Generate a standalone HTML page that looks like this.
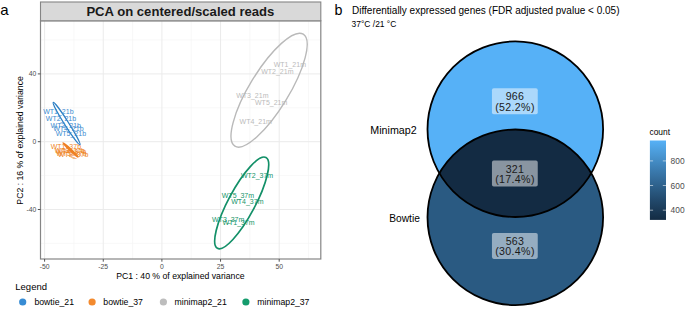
<!DOCTYPE html><html><head><meta charset="utf-8"><style>html,body{margin:0;padding:0;background:#fff;width:685px;height:312px;overflow:hidden}svg{display:block}text{font-family:"Liberation Sans",sans-serif}</style></head><body>
<svg width="685" height="312" viewBox="0 0 685 312">
<rect width="685" height="312" fill="#fff"/>
<text x="0.2" y="14.8" font-size="15" fill="#000">a</text>
<line x1="73.92" y1="20.8" x2="73.92" y2="259.0" stroke="#f4f4f4" stroke-width="0.6"/>
<line x1="132.57" y1="20.8" x2="132.57" y2="259.0" stroke="#f4f4f4" stroke-width="0.6"/>
<line x1="191.23" y1="20.8" x2="191.23" y2="259.0" stroke="#f4f4f4" stroke-width="0.6"/>
<line x1="249.88" y1="20.8" x2="249.88" y2="259.0" stroke="#f4f4f4" stroke-width="0.6"/>
<line x1="308.52" y1="20.8" x2="308.52" y2="259.0" stroke="#f4f4f4" stroke-width="0.6"/>
<line x1="40.5" y1="40.00" x2="320.8" y2="40.00" stroke="#f4f4f4" stroke-width="0.6"/>
<line x1="40.5" y1="107.80" x2="320.8" y2="107.80" stroke="#f4f4f4" stroke-width="0.6"/>
<line x1="40.5" y1="175.60" x2="320.8" y2="175.60" stroke="#f4f4f4" stroke-width="0.6"/>
<line x1="40.5" y1="243.40" x2="320.8" y2="243.40" stroke="#f4f4f4" stroke-width="0.6"/>
<line x1="44.60" y1="20.8" x2="44.60" y2="259.0" stroke="#ebebeb" stroke-width="1"/>
<line x1="103.25" y1="20.8" x2="103.25" y2="259.0" stroke="#ebebeb" stroke-width="1"/>
<line x1="161.90" y1="20.8" x2="161.90" y2="259.0" stroke="#ebebeb" stroke-width="1"/>
<line x1="220.55" y1="20.8" x2="220.55" y2="259.0" stroke="#ebebeb" stroke-width="1"/>
<line x1="279.20" y1="20.8" x2="279.20" y2="259.0" stroke="#ebebeb" stroke-width="1"/>
<line x1="40.5" y1="73.90" x2="320.8" y2="73.90" stroke="#ebebeb" stroke-width="1"/>
<line x1="40.5" y1="141.70" x2="320.8" y2="141.70" stroke="#ebebeb" stroke-width="1"/>
<line x1="40.5" y1="209.50" x2="320.8" y2="209.50" stroke="#ebebeb" stroke-width="1"/>
<ellipse cx="66.6" cy="123.6" rx="25.0" ry="2.1" transform="rotate(57.6 66.6 123.6)" fill="none" stroke="#2c7fc4" stroke-width="1.3"/>
<ellipse cx="70.5" cy="149.95" rx="10.2" ry="0.8" transform="rotate(43.7 70.5 149.95)" fill="none" stroke="#ef7f22" stroke-width="1.6"/>
<ellipse cx="269.1" cy="90.2" rx="65.6" ry="19.6" transform="rotate(-58.6 269.1 90.2)" fill="none" stroke="#b9b9b9" stroke-width="1.4"/>
<ellipse cx="241.7" cy="202.9" rx="51.5" ry="13.4" transform="rotate(-61.9 241.7 202.9)" fill="none" stroke="#139068" stroke-width="1.7"/>
<text x="43.2" y="113.5" font-size="7.0" fill="#3a8bd0">WT1_21b</text>
<text x="45.8" y="121.2" font-size="7.0" fill="#3a8bd0">WT2_21b</text>
<text x="50.6" y="128.3" font-size="7.0" fill="#3a8bd0">WT3_21b</text>
<text x="53.2" y="131.0" font-size="7.0" fill="#3a8bd0">WT4_21b</text>
<text x="55.7" y="135.5" font-size="7.0" fill="#3a8bd0">WT5_21b</text>
<text x="50.7" y="148.5" font-size="7.0" fill="#ef8628">WT1_37b</text>
<text x="54.5" y="152.8" font-size="7.0" fill="#ef8628">WT3_37b</text>
<text x="55.7" y="153.5" font-size="7.0" fill="#ef8628">WT4_37b</text>
<text x="58.0" y="157.0" font-size="7.0" fill="#ef8628">WT2_37b</text>
<text x="56.2" y="155.7" font-size="7.0" fill="#ef8628">WT5_37b</text>
<text x="273.7" y="66.5" font-size="7.0" fill="#bbbbbb">WT1_21m</text>
<text x="261.2" y="73.7" font-size="7.0" fill="#bbbbbb">WT2_21m</text>
<text x="236.2" y="98.4" font-size="7.0" fill="#bbbbbb">WT3_21m</text>
<text x="255.0" y="105.1" font-size="7.0" fill="#bbbbbb">WT5_21m</text>
<text x="239.6" y="124.3" font-size="7.0" fill="#bbbbbb">WT4_21m</text>
<text x="240.9" y="178.4" font-size="7.0" fill="#16956a">WT2_37m</text>
<text x="221.8" y="197.8" font-size="7.0" fill="#16956a">WT5_37m</text>
<text x="231.2" y="204.2" font-size="7.0" fill="#16956a">WT4_37m</text>
<text x="212.0" y="221.5" font-size="7.0" fill="#16956a">WT3_37m</text>
<text x="222.4" y="224.5" font-size="7.0" fill="#16956a">WT1_37m</text>
<rect x="40.5" y="20.8" width="280.3" height="238.2" fill="none" stroke="#858585" stroke-width="1.2"/>
<rect x="40.5" y="2" width="280.3" height="18.8" fill="#d9d9d9" stroke="#858585" stroke-width="1.1"/>
<text x="180.4" y="16.3" font-size="13.1" font-weight="bold" fill="#1a1a1a" text-anchor="middle">PCA on centered/scaled reads</text>
<line x1="44.60" y1="259.0" x2="44.60" y2="261.7" stroke="#555" stroke-width="1"/>
<text x="44.60" y="269.2" font-size="6.8" fill="#4d4d4d" text-anchor="middle">-50</text>
<line x1="103.25" y1="259.0" x2="103.25" y2="261.7" stroke="#555" stroke-width="1"/>
<text x="103.25" y="269.2" font-size="6.8" fill="#4d4d4d" text-anchor="middle">-25</text>
<line x1="161.90" y1="259.0" x2="161.90" y2="261.7" stroke="#555" stroke-width="1"/>
<text x="161.90" y="269.2" font-size="6.8" fill="#4d4d4d" text-anchor="middle">0</text>
<line x1="220.55" y1="259.0" x2="220.55" y2="261.7" stroke="#555" stroke-width="1"/>
<text x="220.55" y="269.2" font-size="6.8" fill="#4d4d4d" text-anchor="middle">25</text>
<line x1="279.20" y1="259.0" x2="279.20" y2="261.7" stroke="#555" stroke-width="1"/>
<text x="279.20" y="269.2" font-size="6.8" fill="#4d4d4d" text-anchor="middle">50</text>
<line x1="37.8" y1="73.90" x2="40.5" y2="73.90" stroke="#555" stroke-width="1"/>
<text x="36.3" y="76.35" font-size="6.8" fill="#4d4d4d" text-anchor="end">40</text>
<line x1="37.8" y1="141.70" x2="40.5" y2="141.70" stroke="#555" stroke-width="1"/>
<text x="36.3" y="144.15" font-size="6.8" fill="#4d4d4d" text-anchor="end">0</text>
<line x1="37.8" y1="209.50" x2="40.5" y2="209.50" stroke="#555" stroke-width="1"/>
<text x="36.3" y="211.95" font-size="6.8" fill="#4d4d4d" text-anchor="end">-40</text>
<text x="180.4" y="279.3" font-size="8.7" fill="#000" text-anchor="middle">PC1 : 40 % of explained variance</text>
<text transform="translate(22.5 140.4) rotate(-90)" font-size="8.7" fill="#000" text-anchor="middle">PC2 : 16 % of explained variance</text>
<text x="15.3" y="290" font-size="9.5" fill="#000">Legend</text>
<circle cx="22.7" cy="302.0" r="3.6" fill="#378cd4"/>
<text x="34.4" y="305.3" font-size="8.7" fill="#000">bowtie_21</text>
<circle cx="92.1" cy="302.0" r="3.6" fill="#f38a2e"/>
<text x="103.3" y="305.3" font-size="8.7" fill="#000">bowtie_37</text>
<circle cx="163.4" cy="302.0" r="3.6" fill="#bdbdbd"/>
<text x="174.6" y="305.3" font-size="8.7" fill="#000">minimap2_21</text>
<circle cx="245.9" cy="302.0" r="3.6" fill="#159c6d"/>
<text x="257.3" y="305.3" font-size="8.7" fill="#000">minimap2_37</text>
<text x="334.4" y="14.5" font-size="14.3" fill="#000">b</text>
<text x="352.0" y="13.8" font-size="10" fill="#000">Differentially expressed genes (FDR adjusted pvalue &lt; 0.05)</text>
<text x="351.6" y="27.1" font-size="8.45" fill="#000">37°C /21 °C</text>
<defs><clipPath id="c1"><circle cx="515.3" cy="129.2" r="87.8"/></clipPath></defs>
<circle cx="515.3" cy="129.2" r="87.8" fill="#56b1f7"/>
<circle cx="515.3" cy="217.3" r="87.8" fill="#2a5a82"/>
<circle cx="515.3" cy="217.3" r="87.8" fill="#132b43" clip-path="url(#c1)"/>
<circle cx="515.3" cy="129.2" r="87.8" fill="none" stroke="#000" stroke-width="1.8"/>
<circle cx="515.3" cy="217.3" r="87.8" fill="none" stroke="#000" stroke-width="1.8"/>
<rect x="491.95" y="88.35" width="45.8" height="26" rx="1.8" fill="#fff" fill-opacity="0.5"/>
<text x="515.0" y="100.45" font-size="10.6" letter-spacing="0.35" fill="#1a1a1a" text-anchor="middle">966</text>
<text x="515.0" y="110.85" font-size="10.6" letter-spacing="0.35" fill="#1a1a1a" text-anchor="middle">(52.2%)</text>
<rect x="491.95" y="160.60" width="45.8" height="26" rx="1.8" fill="#fff" fill-opacity="0.5"/>
<text x="515.0" y="172.70" font-size="10.6" letter-spacing="0.35" fill="#1a1a1a" text-anchor="middle">321</text>
<text x="515.0" y="183.10" font-size="10.6" letter-spacing="0.35" fill="#1a1a1a" text-anchor="middle">(17.4%)</text>
<rect x="491.95" y="232.90" width="45.8" height="26" rx="1.8" fill="#fff" fill-opacity="0.5"/>
<text x="515.0" y="245.00" font-size="10.6" letter-spacing="0.35" fill="#1a1a1a" text-anchor="middle">563</text>
<text x="515.0" y="255.40" font-size="10.6" letter-spacing="0.35" fill="#1a1a1a" text-anchor="middle">(30.4%)</text>
<text x="370.3" y="134.2" font-size="10.7" fill="#000">Minimap2</text>
<text x="389.3" y="221.6" font-size="10.2" fill="#000">Bowtie</text>
<defs><linearGradient id="cb" x1="0" y1="1" x2="0" y2="0">
<stop offset="0.000" stop-color="#132b43"/>
<stop offset="0.125" stop-color="#1b3a57"/>
<stop offset="0.250" stop-color="#22496c"/>
<stop offset="0.375" stop-color="#2a5a82"/>
<stop offset="0.500" stop-color="#336a98"/>
<stop offset="0.625" stop-color="#3b7baf"/>
<stop offset="0.750" stop-color="#448dc6"/>
<stop offset="0.875" stop-color="#4d9fde"/>
<stop offset="1.000" stop-color="#56b1f7"/>
</linearGradient></defs>
<rect x="649.9" y="140.5" width="16.1" height="79.4" fill="url(#cb)"/>
<line x1="649.9" y1="160.9" x2="653.1" y2="160.9" stroke="#fff" stroke-opacity="0.7" stroke-width="0.8"/>
<line x1="662.8" y1="160.9" x2="666" y2="160.9" stroke="#fff" stroke-opacity="0.7" stroke-width="0.8"/>
<text x="670.6" y="164.0" font-size="8.4" fill="#4d4d4d">800</text>
<line x1="649.9" y1="185.5" x2="653.1" y2="185.5" stroke="#fff" stroke-opacity="0.7" stroke-width="0.8"/>
<line x1="662.8" y1="185.5" x2="666" y2="185.5" stroke="#fff" stroke-opacity="0.7" stroke-width="0.8"/>
<text x="670.6" y="188.6" font-size="8.4" fill="#4d4d4d">600</text>
<line x1="649.9" y1="210.2" x2="653.1" y2="210.2" stroke="#fff" stroke-opacity="0.7" stroke-width="0.8"/>
<line x1="662.8" y1="210.2" x2="666" y2="210.2" stroke="#fff" stroke-opacity="0.7" stroke-width="0.8"/>
<text x="670.6" y="213.3" font-size="8.4" fill="#4d4d4d">400</text>
<text x="649.5" y="134.7" font-size="8.4" fill="#000">count</text>
</svg></body></html>
